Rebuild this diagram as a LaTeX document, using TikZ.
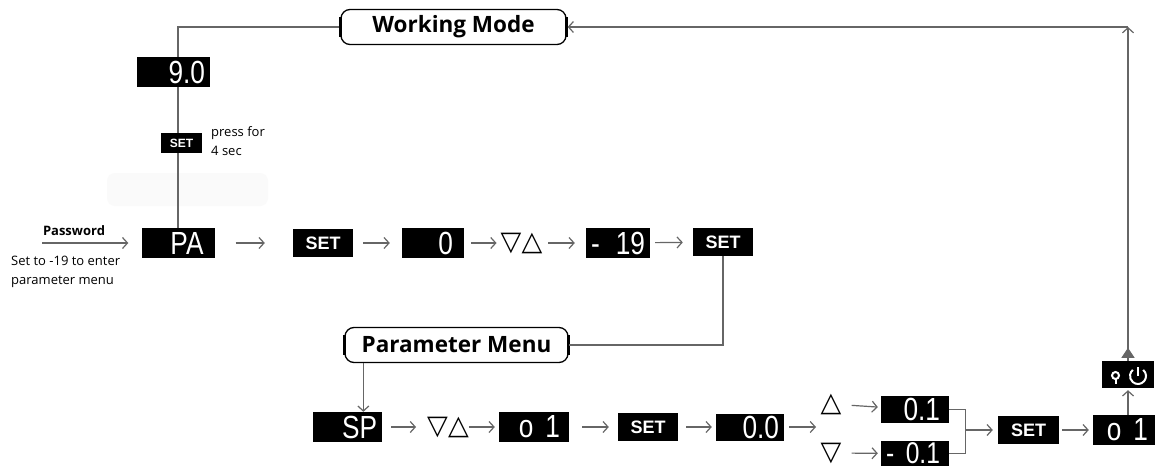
\documentclass[tikz,border=0pt]{standalone}
\usepackage{fontspec}
\setmainfont{Open Sans}
\newfontfamily\keyfont{Liberation Sans}
\newfontfamily\segfont[FakeStretch=0.82]{Liberation Sans}
\newfontfamily\trifont{DejaVu Sans}
\usetikzlibrary{arrows.meta,backgrounds,calc}

\tikzset{
  line/.style={draw=black!60, line width=1.2pt},
  arr/.style={line, -{Straight Barb[length=5pt,width=11pt]}, shorten <=4pt, shorten >=4pt},
  disp/.style={fill=black, text=white, text width=#1, align=right, minimum height=30pt,
    inner xsep=5pt, inner ysep=0pt, font=\segfont\fontsize{32}{32}\selectfont},
  disp/.default=60pt,
  setbox/.style={fill=black, text=white, minimum width=60pt, minimum height=28pt, inner sep=0pt,
    font=\keyfont\bfseries\fontsize{18}{18}\selectfont},
  mode/.style={draw=black, line width=1.3pt, rounded corners=9pt, fill=white, minimum height=35pt,
    inner sep=0pt, font=\bfseries\fontsize{22.5}{22.5}\selectfont},
  updn/.style={inner sep=0pt, font=\trifont\fontsize{27}{27}\selectfont},
  note/.style={inner sep=0pt, align=left, font=\fontsize{13}{19}\selectfont},
}

\begin{document}
\begin{tikzpicture}[x=1pt,y=-1pt]
\useasboundingbox (0,0) rectangle (1155,468);
% working mode and password entry
\node[mode, minimum width=225pt] (work) at (453.5,27) {Working Mode};
\node[disp=63pt] (d90) at (173.5,72) {9.0};
\node[setbox, minimum width=41pt, minimum height=20pt, font=\keyfont\bfseries\fontsize{12}{12}\selectfont] (set0) at (181.5,143) {SET};
\node[note, anchor=north west] (hold) at (211,126.5) {press for\\4 sec};
\node[disp=63pt] (pa) at (178,243) {PA\hspace*{6pt}};
\node[font=\bfseries\fontsize{13}{13}\selectfont] (pwlabel) at (74,231) {Password};
\coordinate (pwin) at (42,243);
\node[note, anchor=north west] (hint) at (11,256) {Set to -19 to enter\\parameter menu};
\node[setbox] (set1) at (323,243) {SET};
\node[disp=52pt] (d0) at (433,243) {0\hspace*{6pt}};
\node[updn] (ud1) at (521.5,243) {▽△};
\node[disp=54pt] (dm19) at (618,243) {-\hfill 19};
\node[setbox] (set2) at (723,242) {SET};
% parameter menu
\node[mode, minimum width=223pt] (pmenu) at (456.5,345) {Parameter Menu};
\node[disp=59pt] (dsp) at (347.5,427) {SP};
\node[updn] (ud2) at (448,427) {▽△};
\node[disp=60pt] (do1) at (534,427) {o\hspace{12pt}1\hspace*{4pt}};
\node[setbox] (set3) at (648,427) {SET};
\node[disp=58pt, minimum height=27pt] (d00) at (750,427) {0.0};
\coordinate (fork) at (816,427);
\node[updn] (tup) at (831,404) {△};
\node[updn] (tdn) at (831,453) {▽};
\node[disp=58pt, minimum height=27pt] (d01) at (915,409.5) {0.1\hspace*{4pt}};
\node[disp=58pt, minimum height=25pt, font=\segfont\fontsize{30}{30}\selectfont] (dm01) at (915,453.5) {-\hfill0.1\hspace*{4pt}};
\node[setbox, minimum width=61pt] (set4) at (1028.5,430) {SET};
\node[disp=60pt] (do1b) at (1128,430) {o\hspace{12pt}1\hspace*{10pt}};
\node[fill=black, minimum width=52pt, minimum height=27pt] (pwr) at (1128,374.5) {};
\coordinate (turn) at (1128,27);

\begin{scope}[shift={(pwr.center)}, white, line width=2pt]
  \draw (-12.5,1) circle[radius=3.5];
  \draw (-12.5,4.5) -- (-12.5,9);
  \draw ($(10,1.5)+(-50:8)$) arc[start angle=-50, end angle=230, radius=8];
  \draw (10,-7.5) -- (10,1.5);
\end{scope}

\foreach \n in {work,pmenu}{
  \draw[line width=2.6pt] ([yshift=-8pt]\n.north west) -- ([yshift=8pt]\n.south west)
    ([yshift=-8pt]\n.north east) -- ([yshift=8pt]\n.south east);
}

\begin{scope}[on background layer]
  \fill[white] (0,0) rectangle (1155,468);
  \fill[black!2, rounded corners=8pt] (107,173) rectangle (268,206);
  \draw[line] (pa.north) |- (work.west);
\end{scope}

% top row
\draw[arr, shorten <=0pt, shorten >=13pt] (pwin) -- (pa.west);
\draw[arr, shorten <=21pt, shorten >=28pt] (pa) -- (set1);
\draw[arr, shorten <=10pt, shorten >=12pt] (set1) -- (d0);
\draw[arr, shorten <=7pt, shorten >=4pt] (d0) -- (ud1);
\draw[arr, shorten <=6pt, shorten >=11pt] (ud1) -- (dm19);
\draw[arr, shorten <=5pt, shorten >=10pt] (dm19) -- (set2);
\draw[line] (set2.south) |- (pmenu.east);
\coordinate (pm) at ([xshift=19pt]pmenu.south west);
\draw[arr, shorten <=0pt, shorten >=0pt] (pm) -- (pm |- dsp.north);
% bottom row
\draw[arr, shorten <=9pt, shorten >=11pt] (dsp) -- (ud2);
\draw[arr, shorten <=0pt, shorten >=4pt] (ud2) -- (do1);
\draw[arr, shorten <=13pt, shorten >=9pt] (do1) -- (set3);
\draw[arr, shorten <=8pt, shorten >=4pt] (set3) -- (d00);
\draw[arr, shorten <=5pt, shorten >=0pt] (d00) -- (fork);
\draw[arr, shorten <=10pt, shorten >=3pt] (tup) -- (d01);
\draw[arr, shorten <=10pt, shorten >=3pt] (tdn) -- (dm01);
\draw[line] (d01.east) -- ++(16,0) coordinate (jt) |- (dm01.east);
\draw[arr, shorten <=0pt, shorten >=5pt] (jt |- set4) -- (set4.west);
\draw[arr, shorten <=3pt, shorten >=4pt] (set4) -- (do1b);
\draw[arr, shorten <=0pt, shorten >=2pt] (do1b.north) -- (pwr.south);
% back to working mode
\draw[line, -{Triangle[length=10pt,width=13pt]}] (pwr.north) -- ++(0,-13);
\draw[arr, shorten <=0pt, shorten >=0pt] (pwr.north) -- (turn);
\draw[arr, shorten <=0pt, shorten >=1pt] (turn) -- (work.east);
\end{tikzpicture}
\end{document}
